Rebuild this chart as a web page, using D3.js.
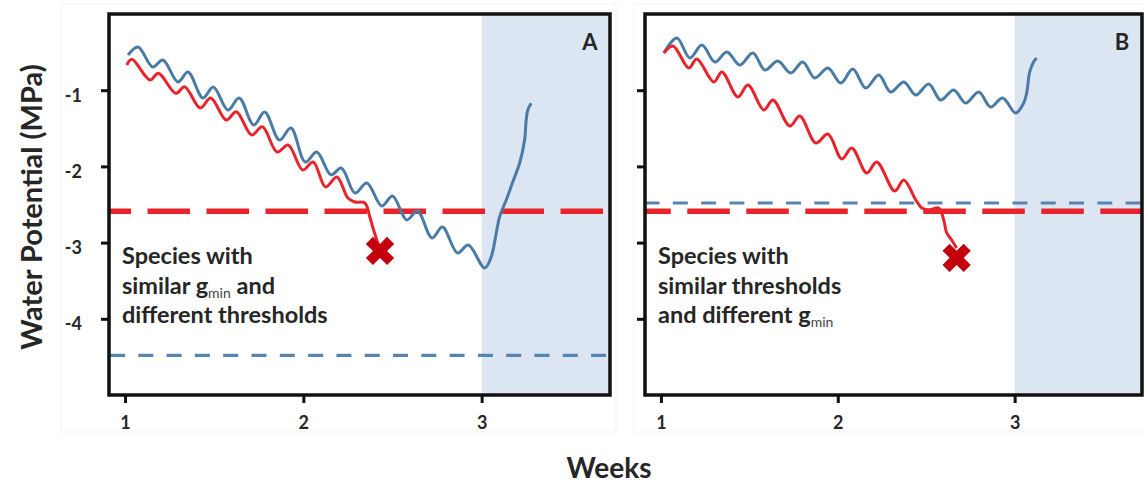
<!DOCTYPE html>
<html>
<head>
<meta charset="utf-8">
<script src="https://cdn.jsdelivr.net/npm/d3@7"></script>
<style>
  body { margin: 0; background: #fff; }
  svg { display: block; }
  text { font-family: Lato, "Open Sans", sans-serif; font-weight: 700; fill: #262626; }
</style>
</head>
<body>
<svg id="chart" width="1145" height="483"></svg>
<script>
// Axis ticks
const weekTicks = [1, 2, 3];
const mpaTicks = [-1, -2, -3, -4];
const rewaterWeek = 3;            // shaded period starts here
const weekDomain = [0.91, 3.72];
const mpaDomain = [-5, 0];

// Panel A: similar gmin, different thresholds  ([week, MPa])
const aRed = [
  [1.010,-0.669],[1.038,-0.594],[1.140,-0.866],[1.187,-0.778],[1.285,-1.041],[1.334,-0.954],
  [1.422,-1.234],[1.480,-1.102],[1.568,-1.391],[1.624,-1.282],[1.710,-1.588],[1.770,-1.479],
  [1.853,-1.811],[1.915,-1.719],[1.997,-2.047],[2.055,-1.942],[2.125,-2.270],[2.188,-2.139],
  [2.250,-2.415],[2.289,-2.467],[2.345,-2.480],[2.373,-2.664],[2.389,-2.795],[2.412,-2.966],
  [2.423,-3.045]
];
const aBlue = [
  [1.017,-0.538],[1.073,-0.433],[1.155,-0.696],[1.212,-0.604],[1.297,-0.892],[1.353,-0.761],
  [1.437,-1.102],[1.495,-0.958],[1.577,-1.260],[1.640,-1.102],[1.722,-1.457],[1.783,-1.286],
  [1.866,-1.654],[1.930,-1.496],[2.011,-1.942],[2.075,-1.810],[2.155,-2.110],[2.213,-2.021],
  [2.290,-2.349],[2.356,-2.218],[2.440,-2.520],[2.500,-2.388],[2.580,-2.703],[2.640,-2.585],
  [2.722,-2.940],[2.780,-2.795],[2.865,-3.136],[2.925,-3.031],[3.017,-3.333],[3.054,-3.185],
  [3.082,-2.878],[3.101,-2.660],[3.138,-2.441],[3.175,-2.201],[3.213,-1.959],[3.241,-1.654],
  [3.250,-1.391],[3.259,-1.260],[3.278,-1.172]
];
const aRedThreshold = -2.59;
const aBlueThreshold = -4.48;
const aRedDeath = [2.43, -3.11];

// Panel B: similar thresholds, different gmin
const bRed = [
  [1.017,-0.512],[1.068,-0.420],[1.158,-0.709],[1.203,-0.591],[1.299,-0.892],[1.345,-0.761],
  [1.435,-1.089],[1.492,-0.932],[1.582,-1.260],[1.633,-1.129],[1.729,-1.470],[1.785,-1.339],
  [1.876,-1.693],[1.944,-1.575],[2.023,-1.903],[2.079,-1.758],[2.164,-2.087],[2.220,-1.942],
  [2.322,-2.323],[2.373,-2.178],[2.441,-2.441],[2.475,-2.546],[2.514,-2.572],[2.571,-2.546],
  [2.599,-2.703],[2.616,-2.874],[2.644,-2.966],[2.672,-3.071]
];
const bBlue = [
  [1.017,-0.512],[1.090,-0.315],[1.164,-0.577],[1.232,-0.407],[1.305,-0.630],[1.373,-0.499],
  [1.446,-0.669],[1.520,-0.512],[1.588,-0.735],[1.661,-0.617],[1.734,-0.774],[1.802,-0.630],
  [1.870,-0.840],[1.944,-0.709],[2.017,-0.906],[2.085,-0.722],[2.158,-0.971],[2.232,-0.801],
  [2.299,-1.024],[2.373,-0.892],[2.441,-1.063],[2.514,-0.919],[2.582,-1.129],[2.655,-0.997],
  [2.723,-1.168],[2.797,-1.024],[2.864,-1.220],[2.932,-1.102],[3.006,-1.299],[3.051,-1.168],
  [3.068,-1.037],[3.085,-0.761],[3.107,-0.630],[3.124,-0.577]
];
const bRedThreshold = -2.59;
const bBlueThreshold = -2.48;
const bRedDeath = [2.672, -3.20];

const RED = "#e8232a", BLUE = "#4a7aa6", BLUE_DASH = "#5a84b0", DEATH = "#c4000d", SHADE = "#dce6f2";

const svg = d3.select("#chart");
const plotTop = 14, plotBottom = 395;
const y = d3.scaleLinear().domain(mpaDomain).range([plotBottom, plotTop]);

const panels = [
  { key: "A", x0: 109, x1: 610, red: aRed, blue: aBlue, redThr: aRedThreshold, blueThr: aBlueThreshold,
    death: aRedDeath, yLabels: true, redDashStart: 88.5, blueDashStart: 110,
    note: [["Species with"], ["similar g", ["min"], " and"], ["different thresholds"]], noteY: 264,
    box: [61, 4, 616, 432] },
  { key: "B", x0: 645, x1: 1142, red: bRed, blue: bBlue, redThr: bRedThreshold, blueThr: bBlueThreshold,
    death: bRedDeath, yLabels: false, redDashStart: 628.3, blueDashStart: 644.5,
    note: [["Species with"], ["similar thresholds"], ["and different g", ["min"]]], noteY: 264,
    box: [634, 4, 1150, 432] }
];

panels.forEach(p => {
  const x = d3.scaleLinear().domain(weekDomain).range([p.x0, p.x1]);
  const g = svg.append("g");

  // faint outer edge of each panel
  g.append("rect").attr("x", p.box[0]).attr("y", p.box[1])
    .attr("width", p.box[2] - p.box[0]).attr("height", p.box[3] - p.box[1])
    .attr("fill", "none").attr("stroke", "#f3f3f3").attr("stroke-width", 1);

  const clipId = "clip" + p.key;
  svg.append("clipPath").attr("id", clipId).append("rect")
    .attr("x", p.x0).attr("y", plotTop).attr("width", p.x1 - p.x0).attr("height", plotBottom - plotTop);
  const inner = g.append("g").attr("clip-path", `url(#${clipId})`);

  // rewatering period
  inner.append("rect")
    .attr("x", x(rewaterWeek)).attr("y", plotTop)
    .attr("width", p.x1 - x(rewaterWeek)).attr("height", plotBottom - plotTop)
    .attr("fill", SHADE);

  // thresholds
  inner.append("line")
    .attr("x1", p.x0).attr("x2", p.x1).attr("y1", y(p.blueThr)).attr("y2", y(p.blueThr))
    .attr("stroke", BLUE_DASH).attr("stroke-width", 3.2)
    .attr("stroke-dasharray", "15,13.3").attr("stroke-dashoffset", p.x0 - p.blueDashStart);
  inner.append("line")
    .attr("x1", p.x0).attr("x2", p.x1).attr("y1", y(p.redThr)).attr("y2", y(p.redThr))
    .attr("stroke", RED).attr("stroke-width", 5.5)
    .attr("stroke-dasharray", "42.5,16.5").attr("stroke-dashoffset", p.x0 - p.redDashStart);

  // water potential traces
  const line = d3.line().x(d => x(d[0])).y(d => y(d[1])).curve(d3.curveCatmullRom.alpha(0.5));
  inner.append("path").datum(p.blue).attr("d", line)
    .attr("fill", "none").attr("stroke", BLUE).attr("stroke-width", 3).attr("stroke-linejoin", "round");
  inner.append("path").datum(p.red).attr("d", line)
    .attr("fill", "none").attr("stroke", RED).attr("stroke-width", 3).attr("stroke-linejoin", "round");

  // mortality marker
  inner.append("path")
    .attr("d", d3.symbol().type(d3.symbolCross).size(500)())
    .attr("transform", `translate(${x(p.death[0])},${y(p.death[1])}) rotate(45)`)
    .attr("fill", DEATH);

  // axes
  const xAxis = d3.axisBottom(x).tickValues(weekTicks).tickSize(8).tickPadding(13).tickFormat(d => String(d));
  const gx = g.append("g").attr("transform", `translate(0,${plotBottom})`).call(xAxis);
  gx.select(".domain").remove();
  gx.selectAll(".tick line").attr("stroke", "#111").attr("stroke-width", 3);
  gx.selectAll(".tick text").attr("font-size", 18).attr("fill", "#262626").attr("font-family", "Lato").attr("font-weight", 700);

  const yAxis = d3.axisLeft(y).tickValues(mpaTicks).tickSize(8).tickPadding(19).tickFormat(d => String(d));
  const gy = g.append("g").attr("transform", `translate(${p.x0},0)`).call(yAxis);
  gy.select(".domain").remove();
  gy.selectAll(".tick line").attr("stroke", "#111").attr("stroke-width", 3);
  gy.selectAll(".tick text").attr("font-size", 18).attr("fill", "#262626").attr("font-family", "Lato").attr("font-weight", 700)
    .attr("dy", "0.62em");
  if (!p.yLabels) gy.selectAll(".tick text").remove();

  // frame
  g.append("rect").attr("x", p.x0).attr("y", plotTop)
    .attr("width", p.x1 - p.x0).attr("height", plotBottom - plotTop)
    .attr("fill", "none").attr("stroke", "#111").attr("stroke-width", 3.5);

  // panel letter
  g.append("text").attr("x", p.x1 - 20).attr("y", 50)
    .attr("text-anchor", "middle").attr("font-size", 22).text(p.key);

  // annotation, one text element per line; subscripts via baseline-shift
  p.note.forEach((parts, i) => {
    const t = g.append("text").attr("font-size", 23.5).attr("fill", "#262626")
      .attr("x", p.x0 + 13).attr("y", p.noteY + i * 29.5);
    parts.forEach(part => {
      if (Array.isArray(part)) {
        t.append("tspan").attr("font-size", 14).attr("font-weight", 400)
          .attr("fill", "#444").attr("baseline-shift", "-4px").text(part[0]);
      } else {
        t.append("tspan").text(part);
      }
    });
  });
});

// shared axis titles
svg.append("text")
  .attr("transform", "translate(42,207) rotate(-90)")
  .attr("text-anchor", "middle").attr("font-size", 29).text("Water Potential (MPa)");
svg.append("text")
  .attr("x", 609).attr("y", 478)
  .attr("text-anchor", "middle").attr("font-size", 28).text("Weeks");
</script>
</body>
</html>
